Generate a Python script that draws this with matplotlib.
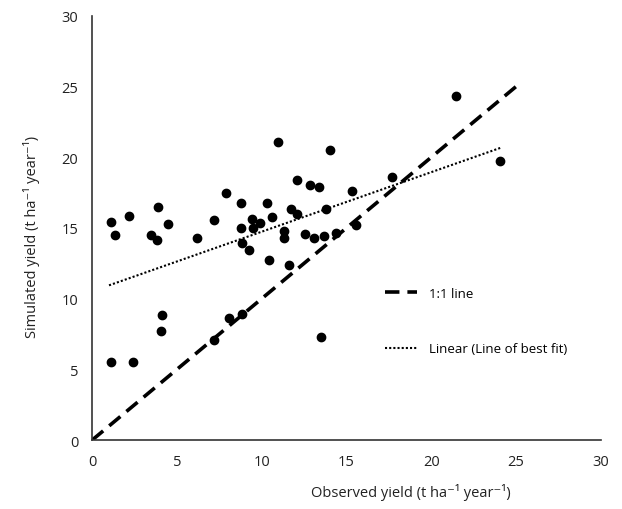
import matplotlib
matplotlib.use('Agg')
import numpy as np
import matplotlib.pyplot as plt

plt.rcParams['font.family'] = ['Open Sans', 'DejaVu Sans']

# observed vs simulated yield (t/ha/yr)
observed = [1.10, 1.36, 2.16, 3.89, 3.48, 3.81, 4.48, 6.19, 7.19, 7.90,
            8.78, 8.78, 8.86, 9.25, 9.45, 9.49, 9.90, 10.29, 10.43, 10.63,
            10.96, 11.29, 11.29, 11.63, 11.73, 12.08, 12.10, 12.55, 12.87, 13.08,
            13.40, 13.67, 13.79, 14.01, 14.38, 15.32, 15.54, 17.70, 21.43, 24.04,
            1.10, 2.44, 4.15, 4.07, 7.19, 8.07, 8.86, 13.47]
simulated = [15.40, 14.52, 15.83, 16.47, 14.52, 14.12, 15.30, 14.29, 15.57, 17.46,
             16.75, 15.02, 13.91, 13.41, 15.66, 15.02, 15.33, 16.75, 12.77, 15.80,
             21.09, 14.81, 14.31, 12.39, 16.37, 18.36, 15.97, 14.54, 18.05, 14.29,
             17.93, 14.43, 16.35, 20.49, 14.62, 17.63, 15.21, 18.60, 24.36, 19.71,
             5.52, 5.52, 8.86, 7.70, 7.11, 8.62, 8.95, 7.27]

one_to_one = [0, 25]
fit_range = [1.0, 24.1]

x = np.array(observed)
y = np.array(simulated)
slope, icpt = np.polyfit(x, y, 1)
xf = np.array(fit_range)

fig = plt.figure(figsize=(6.22, 5.10), dpi=100)
ax = fig.add_axes([0.148, 0.135, 0.818, 0.832])

ax.scatter(x, y, s=36, color='black', zorder=3)
ax.plot(one_to_one, one_to_one, color='black', linestyle=(0, (4, 2.2)), linewidth=2.6,
        label='1:1 line')
ax.plot(xf, slope*xf + icpt, color='black', linestyle=(0, (1, 1)), linewidth=1.5,
        label='Linear (Line of best fit)')

ax.set_xlim(0, 30)
ax.set_ylim(0, 30)
ax.set_xticks(range(0, 31, 5))
ax.set_yticks(range(0, 31, 5))
ax.tick_params(length=0, labelsize=10.5, pad=10, colors='#222222')
for s in ['top', 'right']:
    ax.spines[s].set_visible(False)
for s in ['left', 'bottom']:
    ax.spines[s].set_color('#333333')
    ax.spines[s].set_linewidth(1.2)

fig.text(0.66, 0.035, 'Observed yield (t ha\u207b\u00b9 year\u207b\u00b9)', ha='center',
         va='center', fontsize=10.5, color='#222222')
fig.text(0.05, 0.535, 'Simulated yield (t ha\u207b\u00b9 year\u207b\u00b9)', ha='center',
         va='center', rotation=90, fontsize=10.5, color='#222222')

ax.legend(loc='upper left', bbox_to_anchor=(0.553, 0.389), frameon=False, fontsize=9.5,
          handlelength=2.4, labelspacing=3.2, handletextpad=0.9)

plt.savefig('out.png', dpi=100)
plt.close()
